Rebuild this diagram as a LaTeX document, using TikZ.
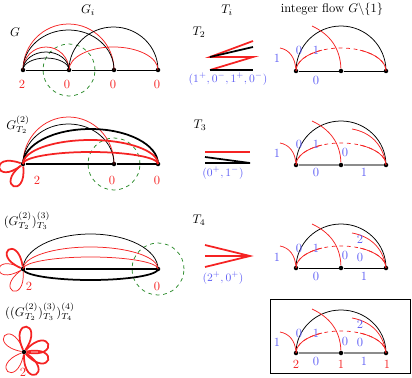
\documentclass[tikz,border=0pt]{standalone}
\usepackage{amsmath,amssymb}
\usepackage{xcolor}
\usepackage{tikz}
\usetikzlibrary{positioning}
\definecolor{edgered}{RGB}{245,35,35}
\definecolor{flowblue}{RGB}{95,95,245}
\definecolor{cutgreen}{RGB}{45,140,45}
\tikzstyle{vtx} = [circle, fill=black, inner sep=0pt, minimum size=3.6pt]
\tikzstyle{redge} = [draw=edgered, line width=0.6pt]
\tikzstyle{bedge} = [draw=black, line width=0.6pt]
\tikzstyle{redthick} = [draw=edgered, line width=1.4pt]
\tikzstyle{blkthick} = [draw=black, line width=1.4pt]
\tikzstyle{base} = [draw=black, line width=0.7pt]
\tikzstyle{greybase} = [draw=black!45, line width=1.4pt]
\tikzstyle{cutcircle} = [draw=cutgreen, dashed, line width=0.6pt]
\tikzstyle{deg} = [text=edgered]
\tikzstyle{flow} = [text=flowblue]

\begin{document}
\begin{tikzpicture}[x=0.8pt, y=0.8pt]
    \useasboundingbox (0,0) rectangle (412,-378);

    % column headers
    \node (hG) at (88,-10) {$G_i$};
    \node (hT) at (227,-10) {$T_i$};
    \node (hF) at (332,-9) {integer flow $G\backslash\{1\}$};

    % row 1: G
    \node (lG) at (15,-32) {$G$};
    \node[vtx] (a1) at (23,-70) {};
    \node[vtx] (a2) at (69,-70) {};
    \node[vtx] (a3) at (114,-70) {};
    \node[vtx] (a4) at (158,-70) {};
    \draw[cutcircle] (a2.center) circle (26);
    \draw[base] (a1) -- (a2) -- (a3) -- (a4);
    \draw[redge] (a1.center) arc[start angle=180, end angle=0, x radius=45.5, y radius=46];
    \draw[bedge] (a1.center) arc[start angle=180, end angle=0, x radius=45.5, y radius=40];
    \draw[redge] (a1.center) arc[start angle=180, end angle=0, x radius=23, y radius=23];
    \draw[bedge] (a1.center) arc[start angle=180, end angle=0, x radius=23, y radius=18];
    \draw[bedge] (a1.center) arc[start angle=180, end angle=0, x radius=23, y radius=12];
    \draw[bedge] (a2.center) arc[start angle=180, end angle=0, x radius=44.5, y radius=43];
    \draw[redge] (a2.center) arc[start angle=180, end angle=0, x radius=44.5, y radius=23];
    \node[deg] (da1) at (22,-84) {2};
    \node[deg] (da2) at (67,-84) {0};
    \node[deg] (da3) at (113,-84) {0};
    \node[deg] (da4) at (157,-84) {0};

    % row 1: T2
    \node (lT2) at (199,-32) {$T_2$};
    \draw[redthick] (253,-41) -- (210,-57) -- (253,-57) -- (210,-70);
    \draw[blkthick] (210,-57) -- (253,-47);
    \draw[blkthick] (210,-70) -- (253,-70);
    \node[flow] (sT2) at (228,-79) {\small $(1^+,0^-,1^+,0^-)$};

    % row 1: flow
    \node[vtx] (f1) at (296,-71) {};
    \node[vtx] (f2) at (341,-71) {};
    \node[vtx] (f3) at (386,-71) {};
    \coordinate (fc1) at (280,-48);
    \coordinate (fc2) at (312,-26);
    \draw[base] (f1) -- (f2) -- (f3);
    \draw[bedge] (f1.center) arc[start angle=180, end angle=0, x radius=45, y radius=45];
    \draw[redge, dashed] (f1.center) arc[start angle=180, end angle=0, x radius=45, y radius=23];
    \draw[redge] (f1.center) arc[start angle=180, end angle=115, x radius=45, y radius=23];
    \draw[redge] (f3.center) arc[start angle=0, end angle=65, x radius=45, y radius=23];
    \draw[redge] (fc1) to[out=-10, in=95] (f1);
    \draw[redge] (fc2) to[out=-25, in=92] (f2);
    \node[flow] at (277,-58) {1};
    \node[flow] at (299,-50) {0};
    \node[flow] at (316,-50) {1};
    \node[flow] at (316,-80) {0};

    % row 2: G_T2^(2)
    \node (lG2) at (18,-125) {$G^{(2)}_{T_2}$};
    \node[vtx] (b1) at (23,-164) {};
    \node[vtx] (b2) at (114,-164) {};
    \node[vtx] (b3) at (158,-164) {};
    \draw[cutcircle] (b2.center) circle (26);
    \draw[blkthick] (b1) -- (b2) -- (b3);
    \draw[redge] (b1.center) arc[start angle=180, end angle=0, x radius=45.5, y radius=47];
    \draw[bedge] (b1.center) arc[start angle=180, end angle=0, x radius=45.5, y radius=40];
    \draw[blkthick] (b1.center) arc[start angle=180, end angle=0, x radius=67.5, y radius=35];
    \draw[redthick] (b1.center) arc[start angle=180, end angle=0, x radius=67.5, y radius=24];
    \draw[redthick] (b1.center) arc[start angle=180, end angle=0, x radius=67.5, y radius=12];
    \draw[redthick] (b1) .. controls +(160:36) and +(218:36) .. (b1);
    \draw[redthick] (b1) .. controls +(218:36) and +(276:36) .. (b1);
    \node[deg] (db1) at (37,-180) {2};
    \node[deg] (db2) at (112,-180) {0};
    \node[deg] (db3) at (157,-180) {0};

    % row 2: T3
    \node (lT3) at (200,-125) {$T_3$};
    \draw[redthick] (205,-152) -- (250,-152);
    \draw[blkthick] (205,-157) -- (250,-163) -- (205,-163);
    \node[flow] (sT3) at (223,-173) {\small $(0^+,1^-)$};

    % row 2: flow
    \node[vtx] (g1) at (296,-165) {};
    \node[vtx] (g2) at (341,-165) {};
    \node[vtx] (g3) at (386,-165) {};
    \coordinate (gc1) at (280,-143);
    \coordinate (gc2) at (312,-121);
    \coordinate (gc3) at (352,-129);
    \draw[greybase] (g1) -- (g2) -- (g3);
    \draw[bedge] (g1.center) arc[start angle=180, end angle=0, x radius=45, y radius=44];
    \draw[redge, dashed] (g1.center) arc[start angle=180, end angle=0, x radius=45, y radius=22];
    \draw[redge] (g1.center) arc[start angle=180, end angle=115, x radius=45, y radius=22];
    \draw[redge] (g3.center) arc[start angle=0, end angle=65, x radius=45, y radius=22];
    \draw[redge] (gc1) to[out=-10, in=95] (g1);
    \draw[redge] (gc2) to[out=-25, in=92] (g2);
    \draw[redge] (gc3) to[out=-10, in=100] (g3);
    \node[flow] at (277,-153) {1};
    \node[flow] at (299,-144) {0};
    \node[flow] at (316,-144) {1};
    \node[flow] at (345,-152) {0};
    \node[flow] at (316,-172) {0};
    \node[flow] at (364,-172) {1};

    % row 3: (G_T2^(2))_T3^(3)
    \node (lG3) at (27,-221) {$(G^{(2)}_{T_2})^{(3)}_{T_3}$};
    \node[vtx] (c1) at (23,-269) {};
    \node[vtx] (c2) at (158,-269) {};
    \draw[cutcircle] (c2.center) circle (26);
    \draw[blkthick] (c1) -- (c2);
    \draw[bedge] (c1.center) arc[start angle=180, end angle=0, x radius=67.5, y radius=35];
    \draw[redge] (c1.center) arc[start angle=180, end angle=0, x radius=67.5, y radius=22];
    \draw[redge] (c1.center) arc[start angle=180, end angle=0, x radius=67.5, y radius=12];
    \draw[blkthick] (c1.center) arc[start angle=180, end angle=360, x radius=67.5, y radius=11];
    \draw[redthick] (c1) .. controls +(98:36) and +(156:36) .. (c1);
    \draw[redge] (c1) .. controls +(152:36) and +(210:36) .. (c1);
    \draw[redge] (c1) .. controls +(216:36) and +(274:36) .. (c1);
    \node[deg] (dc1) at (29,-286) {2};
    \node[deg] (dc2) at (157,-286) {0};

    % row 3: T4
    \node (lT4) at (199,-220) {$T_4$};
    \draw[redthick] (205,-245) -- (250,-256) -- (205,-267);
    \draw[redthick] (205,-256) -- (250,-256);
    \node[flow] (sT4) at (223,-278) {\small $(2^+,0^+)$};

    % row 3: flow
    \node[vtx] (h1) at (296,-268) {};
    \node[vtx] (h2) at (341,-268) {};
    \node[vtx] (h3) at (386,-268) {};
    \coordinate (hc1) at (280,-246);
    \coordinate (hc2) at (312,-224);
    \coordinate (hc3) at (352,-233);
    \draw[base] (h1) -- (h2) -- (h3);
    \draw[bedge] (h1.center) arc[start angle=180, end angle=0, x radius=45, y radius=44];
    \draw[redge, dashed] (h1.center) arc[start angle=180, end angle=0, x radius=45, y radius=22];
    \draw[redge] (h1.center) arc[start angle=180, end angle=115, x radius=45, y radius=22];
    \draw[redge] (h3.center) arc[start angle=0, end angle=65, x radius=45, y radius=22];
    \draw[redge] (hc1) to[out=-10, in=95] (h1);
    \draw[redge] (hc2) to[out=-25, in=92] (h2);
    \draw[redge] (hc3) to[out=-10, in=100] (h3);
    \node[flow] at (277,-257) {1};
    \node[flow] at (299,-248) {0};
    \node[flow] at (316,-248) {1};
    \node[flow] at (345,-255) {0};
    \node[flow] at (360,-239) {2};
    \node[flow] at (360,-257) {0};
    \node[flow] at (316,-276) {0};
    \node[flow] at (364,-276) {1};

    % row 4: ((G_T2^(2))_T3^(3))_T4^(4)
    \node (lG4) at (40,-312) {$((G^{(2)}_{T_2})^{(3)}_{T_3})^{(4)}_{T_4}$};
    \node[vtx] (d1) at (24,-352) {};
    \draw[redthick] (d1) .. controls +(56:38) and +(114:38) .. (d1);
    \draw[redthick] (d1) .. controls +(-11:38) and +(47:38) .. (d1);
    \draw[redthick] (d1) .. controls +(-47:38) and +(11:38) .. (d1);
    \draw[redthick] (d1) .. controls +(-91:38) and +(-33:38) .. (d1);
    \draw[redge] (d1) .. controls +(111:38) and +(169:38) .. (d1);
    \draw[redge] (d1) .. controls +(201:38) and +(259:38) .. (d1);
    \node[deg] (dd1) at (23,-372) {2};

    % row 4: flow (boxed)
    \draw[line width=0.6pt] (270,-299) rectangle (410,-373);
    \node[vtx] (k1) at (296,-353) {};
    \node[vtx] (k2) at (341,-353) {};
    \node[vtx] (k3) at (386,-353) {};
    \coordinate (kc1) at (280,-332);
    \coordinate (kc2) at (312,-309);
    \coordinate (kc3) at (352,-318);
    \draw[greybase] (k1) -- (k2) -- (k3);
    \draw[bedge] (k1.center) arc[start angle=180, end angle=0, x radius=45, y radius=43];
    \draw[redge, dashed] (k1.center) arc[start angle=180, end angle=0, x radius=45, y radius=22];
    \draw[redge] (k1.center) arc[start angle=180, end angle=115, x radius=45, y radius=22];
    \draw[redge] (k3.center) arc[start angle=0, end angle=65, x radius=45, y radius=22];
    \draw[redge] (kc1) to[out=-10, in=95] (k1);
    \draw[redge] (kc2) to[out=-25, in=92] (k2);
    \draw[redge] (kc3) to[out=-10, in=100] (k3);
    \node[flow] at (277,-342) {1};
    \node[flow] at (299,-333) {0};
    \node[flow] at (316,-333) {1};
    \node[flow] at (345,-341) {0};
    \node[flow] at (360,-324) {2};
    \node[flow] at (360,-342) {0};
    \node[flow] at (316,-361) {0};
    \node[flow] at (364,-361) {1};
    \node[deg] (dk1) at (296,-364) {2};
    \node[deg] (dk2) at (341,-364) {1};
    \node[deg] (dk3) at (387,-364) {1};
\end{tikzpicture}
\end{document}
